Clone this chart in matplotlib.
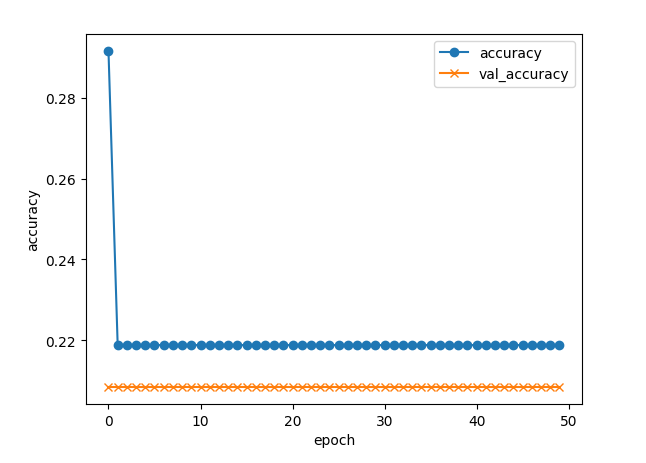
import numpy as np
import matplotlib
matplotlib.use('Agg')
import matplotlib.pyplot as plt

epochs = list(range(50))
accuracy = [0.2917] + [0.21875] * 49
val_accuracy = [0.2083] * 50

if __name__ == '__main__':
    plt.figure(figsize=(6.46, 4.64), dpi=100)
    plt.subplots_adjust(left=0.133, right=0.901, top=0.925, bottom=0.127)
    plt.plot(epochs, accuracy, marker='o', label='accuracy')
    plt.plot(epochs, val_accuracy, marker='x', label='val_accuracy')
    plt.xlabel('epoch')
    plt.ylabel('accuracy')
    plt.legend()
    plt.savefig('out.png')
